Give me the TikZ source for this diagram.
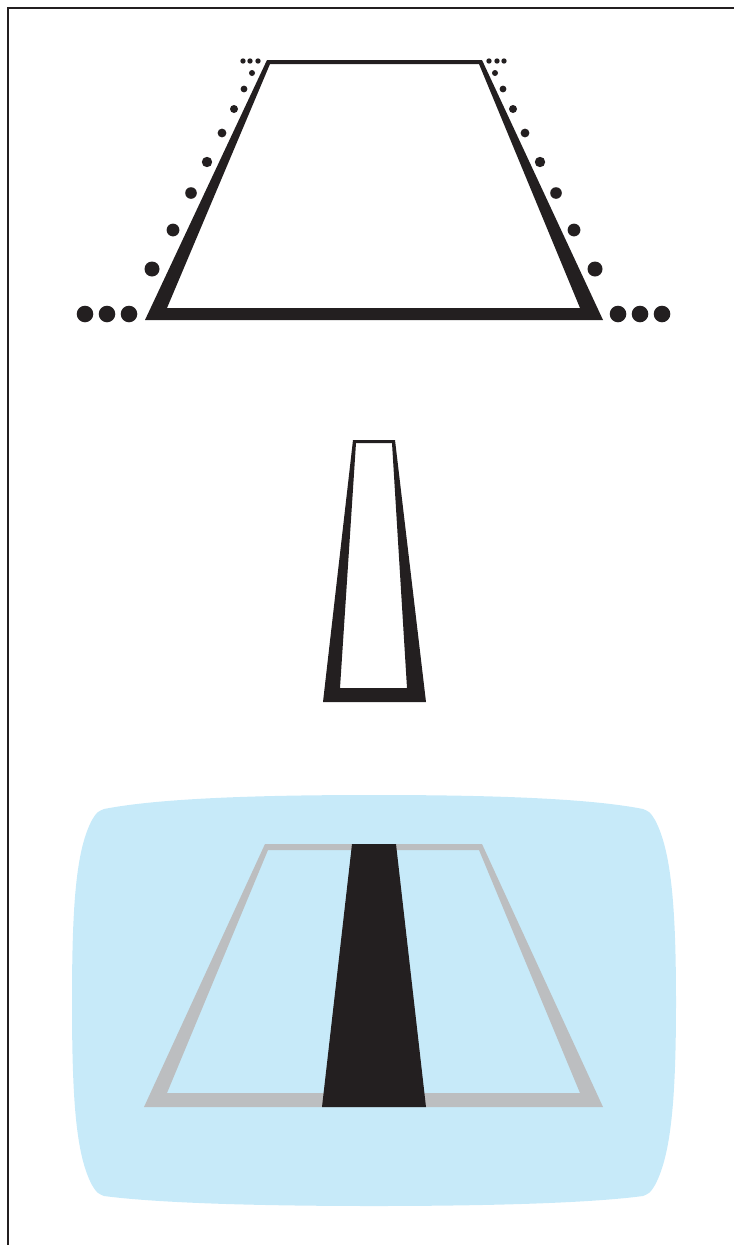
\documentclass[tikz,border=0pt]{standalone}
\usepackage{xcolor}
\definecolor{inkblack}{HTML}{231F20}
\definecolor{skyblue}{HTML}{C7EAF9}
\definecolor{roadgray}{HTML}{BCBEC0}
\tikzset{
  ink/.style={fill=inkblack},
  frameline/.style={draw=inkblack, line width=2pt},
  screen/.style={fill=skyblue},
  edgegray/.style={fill=roadgray, even odd rule}
}

\begin{document}
\begin{tikzpicture}[x=1pt,y=-1pt]
  \useasboundingbox (0,0) rectangle (734,1245);

  % open frame
  \draw[frameline] (8,1245) -- (8,8) -- (734,8);

  % top trapezoid
  \fill[ink, even odd rule] (267,60) -- (482,60) -- (603,320) -- (145,320) -- cycle
                            (270,64) -- (479,64) -- (580,308) -- (167,308) -- cycle;
  \foreach \px/\py/\r in {85/314/8.3, 107/314/8.3, 129/314/8.3,
                          152/269/7.5, 173/230/6.4, 191/193/5.8, 207/162/5.2,
                          222/133/4.4, 234/109/4, 244/89/3.4, 252/73/3,
                          243/61/2.7, 250/61/2.7, 258/61/2.7} {
    \fill[ink] (\px,\py) circle[radius=\r pt];
    \fill[ink] (747-\px,\py) circle[radius=\r pt];
  }

  % narrow tapered strip
  \fill[ink, even odd rule] (353,440) -- (395,440) -- (426,702) -- (323,702) -- cycle
                            (356,443) -- (392,443) -- (407,688) -- (340,688) -- cycle;

  % screen with road
  \fill[screen] (104,809) .. controls (165,797) and (280,795) .. (374,795)
                .. controls (468,795) and (583,797) .. (643,809)
                .. controls (650,812) .. (655,820)
                .. controls (671,850) and (676,905) .. (676,1002)
                .. controls (676,1100) and (671,1155) .. (655,1185)
                .. controls (650,1193) .. (643,1196)
                .. controls (583,1204) and (468,1206) .. (374,1206)
                .. controls (280,1206) and (165,1204) .. (104,1196)
                .. controls (97,1193) .. (92,1185)
                .. controls (76,1155) and (72,1100) .. (72,1002)
                .. controls (72,905) and (76,850) .. (92,820)
                .. controls (97,812) .. (104,809) -- cycle;
  \fill[edgegray] (265,844) -- (482,844) -- (603,1107) -- (144,1107) -- cycle
                  (268,850) -- (479,850) -- (580,1093) -- (167,1093) -- cycle;
  \fill[ink] (352,844) -- (396,844) -- (426,1107) -- (322,1107) -- cycle;
\end{tikzpicture}
\end{document}
